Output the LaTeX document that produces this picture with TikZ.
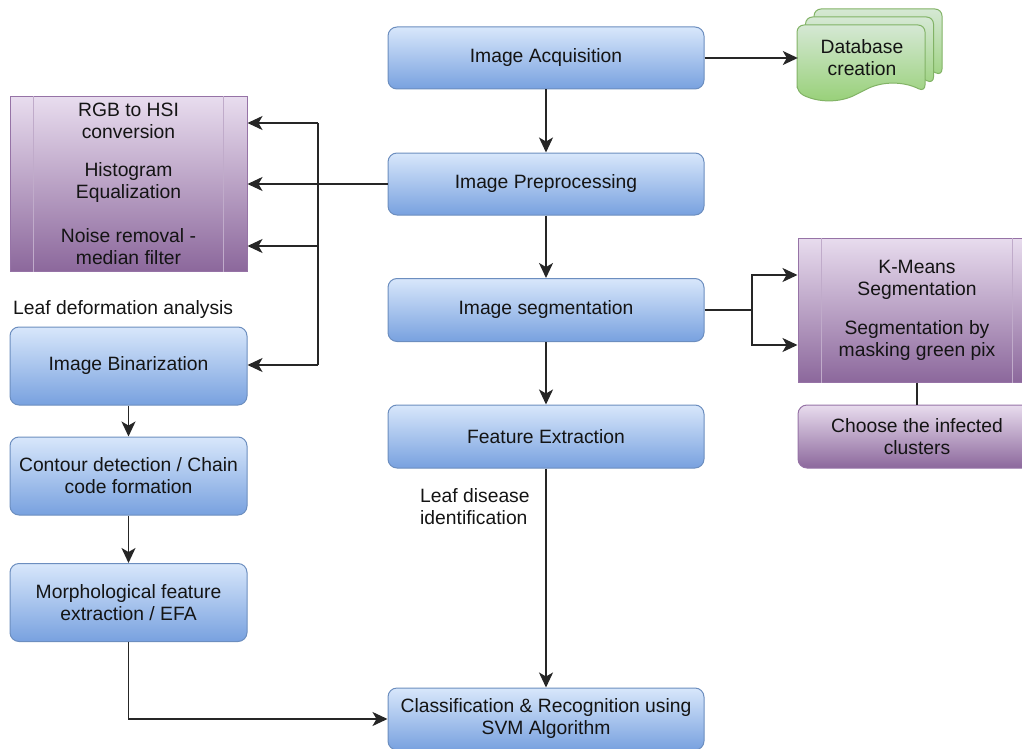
\documentclass[tikz,border=0pt]{standalone}
\usepackage{fontspec}
\setmainfont{Liberation Sans}
\usetikzlibrary{arrows.meta,calc}
\definecolor{txt}{HTML}{141414}
\definecolor{bluetop}{HTML}{D8E7FB}
\definecolor{bluebot}{HTML}{78A1DF}
\definecolor{blueline}{HTML}{6C8EBF}
\definecolor{purtop}{HTML}{E8DCEE}
\definecolor{purbot}{HTML}{8C689C}
\definecolor{purline}{HTML}{9673A6}
\definecolor{grtop}{HTML}{D5E8D4}
\definecolor{grbot}{HTML}{97D077}
\definecolor{grline}{HTML}{82B366}
\tikzset{
  every node/.style={text=txt, font=\fontsize{19.3}{22}\selectfont},
  bluebox/.style={draw=blueline, line width=1pt, rounded corners=9pt,
    top color=bluetop, bottom color=bluebot, align=center, inner sep=0pt},
  purbox/.style={draw=purline, line width=1pt,
    top color=purtop, bottom color=purbot, align=center, inner sep=0pt},
  purround/.style={purbox, rounded corners=9pt},
  plain/.style={align=center, inner sep=0pt},
  arr/.style={draw=black!85, line width=1.6pt, -{Stealth[length=15pt,width=14pt,inset=4pt]}},
  ln/.style={draw=black!85, line width=1.6pt},
  inner/.style={draw=purline!60, line width=0.7pt}
}
\begin{document}
\begin{tikzpicture}[x=1pt,y=-1pt]
\useasboundingbox (0,0) rectangle (1022,749);
\clip (0,0) rectangle (1022,749);

% ---- Database creation (multi document) ----
\foreach \ox/\oy in {17/-16, 8.5/-8, 0/0}{
  \pgfmathsetmacro{\xa}{797+\ox}
  \pgfmathsetmacro{\ya}{25+\oy}
  \def\w{128}\def\h{76}\def\d{18}
  \path[draw=grline, line width=1pt, top color=grtop, bottom color=grbot, rounded corners=7pt]
    (\xa,{\ya+\h-\d/2}) -- (\xa,\ya) -- ({\xa+\w},\ya) -- ({\xa+\w},{\ya+\h-\d/2})
    .. controls ({\xa+5*\w/6},{\ya+\h-1.1*\d}) and ({\xa+2*\w/3},{\ya+\h-1.1*\d}) ..
    ({\xa+\w/2},{\ya+\h-\d/2})
    .. controls ({\xa+\w/3},{\ya+\h+0.1*\d}) and ({\xa+\w/6},{\ya+\h+0.1*\d}) ..
    cycle;
}
\node[plain, minimum width=128pt, minimum height=60pt] (db) at (862,58) {Database\\creation};

% ---- central column ----
\node[bluebox, minimum width=316pt, minimum height=62pt] (acq) at (546,58) {Image Acquisition};
\node[bluebox, minimum width=316pt, minimum height=62pt] (pre) at (546,184) {Image Preprocessing};
\node[bluebox, minimum width=316pt, minimum height=63pt] (seg) at (546,310) {Image segmentation};
\node[bluebox, minimum width=316pt, minimum height=63pt] (feat) at (546,436.5) {Feature Extraction};
\node[bluebox, minimum width=316pt, minimum height=62pt] (cls) at (546,719) {Classification \& Recognition using\\SVM Algorithm};
\node[plain, anchor=west, align=left] (ldi) at (420,507) {Leaf disease\\identification};

% ---- left purple box ----
\node[purbox, minimum width=237pt, minimum height=174pt] (lp) at (128.5,184) {};
\draw[inner] ([xshift=24pt]lp.north west) -- ([xshift=24pt]lp.south west);
\draw[inner] ([xshift=-24pt]lp.north east) -- ([xshift=-24pt]lp.south east);
\node[plain] (lp1) at (128.5,121) {RGB to HSI\\conversion};
\node[plain] (lp2) at (128.5,183) {Histogram\\Equalization};
\node[plain] (lp3) at (128.5,246.5) {Noise removal -\\median filter};

% ---- left column ----
\node[plain, anchor=west] (lda) at (13,310) {Leaf deformation analysis};
\node[bluebox, minimum width=237pt, minimum height=78pt] (bin) at (128.5,366) {Image Binarization};
\node[bluebox, minimum width=237pt, minimum height=78pt] (cont) at (128.5,476) {Contour detection / Chain\\code formation};
\node[bluebox, minimum width=237pt, minimum height=78pt] (morph) at (128.5,602.5) {Morphological feature\\extraction / EFA};

% ---- right purple boxes ----
\node[purbox, minimum width=238pt, minimum height=144pt] (rp) at (917,310) {};
\draw[inner] ([xshift=24pt]rp.north west) -- ([xshift=24pt]rp.south west);
\draw[inner] ([xshift=-24pt]rp.north east) -- ([xshift=-24pt]rp.south east);
\node[plain] (rp1) at (917,280) {K-Means\\Segmentation};
\node[plain] (rp2) at (917,341) {Segmentation by\\masking green pix};
\node[purround, minimum width=238pt, minimum height=63pt] (cc) at (917,436.5) {Choose the infected\\clusters};

% ---- connectors ----
\draw[arr] (acq.east) -- (acq.east -| db.west);
\draw[arr] (acq.south) -- (pre.north);
\draw[arr] (pre.south) -- (seg.north);
\draw[arr] (seg.south) -- (feat.north);
\draw[arr] (feat.south) -- (cls.north);

\draw[arr] (pre.west) -- (pre.west -| lp.east);
\coordinate (t1) at (318,123);
\coordinate (t2) at (318,246);
\coordinate (t3) at (318,365);
\draw[ln] (t1) -- (t3);
\draw[arr] (t1) -- (t1 -| lp.east);
\draw[arr] (t2) -- (t2 -| lp.east);
\draw[arr] (t3) -- (t3 -| bin.east);

\coordinate (sj) at (752,310);
\draw[ln] (seg.east) -- (sj);
\draw[arr] (sj) |- ([yshift=35pt]rp.west);
\draw[arr] (sj) |- ([yshift=-35pt]rp.west);
\draw[ln] (rp.south) -- (cc.north);

\draw[arr] (bin.south) -- (cont.north);
\draw[arr] (cont.south) -- (morph.north);
\draw[arr] (morph.south) |- (cls.west);
\end{tikzpicture}
\end{document}
